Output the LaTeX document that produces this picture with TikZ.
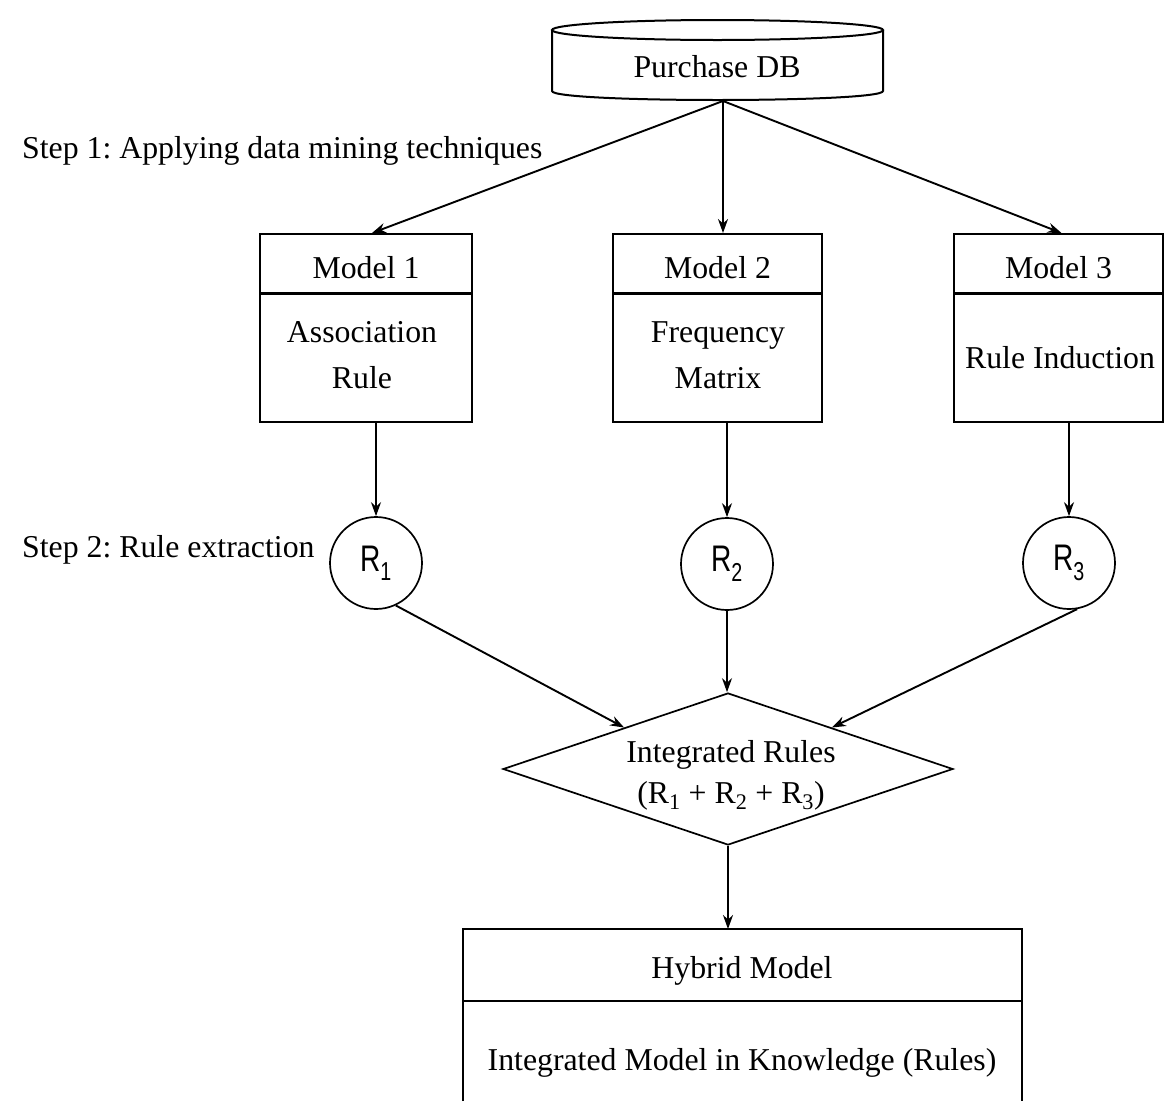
\documentclass[tikz,border=0pt]{standalone}
\usepackage{fontspec}
\setmainfont{Liberation Serif}
\newfontfamily\rsans{Liberation Sans}[FakeStretch=0.76]
\usetikzlibrary{shapes.geometric,arrows.meta,calc}
\frenchspacing
\begin{document}
\begin{tikzpicture}[x=1pt,y=-1pt,
  lbl/.style={inner sep=0pt, anchor=base, font=\fontsize{31.8}{38}\selectfont},
  steplbl/.style={inner sep=0pt, anchor=base west, font=\fontsize{31.8}{38}\selectfont},
  box/.style={draw, line width=2pt, inner sep=0pt},
  divider/.style={line width=3pt},
  outline/.style={line width=2pt},
  arr/.style={line width=1.9pt, -{Stealth[length=14pt,width=10pt]}},
  rnode/.style={draw, circle, line width=1.7pt, minimum size=92pt, inner sep=0pt, font=\rsans\fontsize{37}{40}\selectfont},
]
\useasboundingbox (0,0) rectangle (1173,1101);

% Purchase DB cylinder
\draw[outline] (717.5,30) ellipse [x radius=165.5, y radius=10];
\draw[outline] (552,30) -- (552,91) .. controls (552,103) and (883,103) .. (883,91) -- (883,30);
\node[lbl] (db) at (717,77) {Purchase DB};
\coordinate (dbs) at (723,101);

% Step labels
\node[steplbl] (step1) at (22,158) {Step 1: Applying data mining techniques};
\node[steplbl] (step2) at (22,557) {Step 2: Rule extraction};

% Model boxes
\node[box, minimum width=212pt, minimum height=188pt] (m1) at (366,328) {};
\node[box, minimum width=209pt, minimum height=188pt] (m2) at (717.5,328) {};
\node[box, minimum width=209pt, minimum height=188pt] (m3) at (1058.5,328) {};
\foreach \m in {m1,m2,m3} {
  \draw[divider] (\m.west |- 0,293) -- (\m.east |- 0,293);
}
\node[lbl] (m1t) at (366,278) {Model 1};
\node[lbl] (m2t) at (717.5,278) {Model 2};
\node[lbl] (m3t) at (1058.5,278) {Model 3};
\node[lbl] (m1a) at (362,342) {Association};
\node[lbl] (m1b) at (362,388) {Rule};
\node[lbl] (m2a) at (718,342) {Frequency};
\node[lbl] (m2b) at (718,388) {Matrix};
\node[lbl] (m3a) at (1060,368) {Rule Induction};

% Rule circles
\node[rnode] (r1) at (376,563) {R\textsubscript{1}};
\node[rnode] (r2) at (727,564) {R\textsubscript{2}};
\node[rnode] (r3) at (1069,563) {R\textsubscript{3}};

% Diamond
\node[diamond, draw, line width=1.7pt, minimum width=450pt, minimum height=152pt, inner sep=0pt] (d) at (728,769) {};
\node[lbl] (dt1) at (731,762) {Integrated Rules};
\node[lbl] (dt2) at (731,803) {(R\textsubscript{1} + R\textsubscript{2} + R\textsubscript{3})};

% Hybrid model box (bottom edge beyond picture)
\node[inner sep=0pt, minimum width=559pt, minimum height=172pt] (hyb) at (742.5,1015) {};
\draw[outline] (hyb.west |- 0,1101) -- (hyb.west |- 0,929) -- (hyb.east |- 0,929) -- (hyb.east |- 0,1101);
\draw[outline] (hyb.west |- 0,1001) -- (hyb.east |- 0,1001);
\node[lbl] (h1) at (742,978) {Hybrid Model};
\node[lbl] (h2) at (742,1070) {Integrated Model in Knowledge (Rules)};

% Connectors
\draw[arr] (dbs) -- ($(m1.north)+(6,0)$);
\draw[arr] (dbs) -- (m2.north -| dbs);
\draw[arr] (dbs) -- ($(m3.north)+(3,0)$);
\draw[arr] (r1 |- m1.south) -- (r1.north);
\draw[arr] (r2 |- m2.south) -- (r2.north);
\draw[arr] (r3 |- m3.south) -- (r3.north);
\draw[arr] (r1.-65) -- ($(d.west)!0.54!(d.north)$);
\draw[arr] (r2.south) -- (r2.south |- d.north);
\draw[arr] (r3.-80) -- ($(d.east)!0.54!(d.north)$);
\draw[arr] (d.south) -- (d.south |- 0,929);
\end{tikzpicture}
\end{document}
